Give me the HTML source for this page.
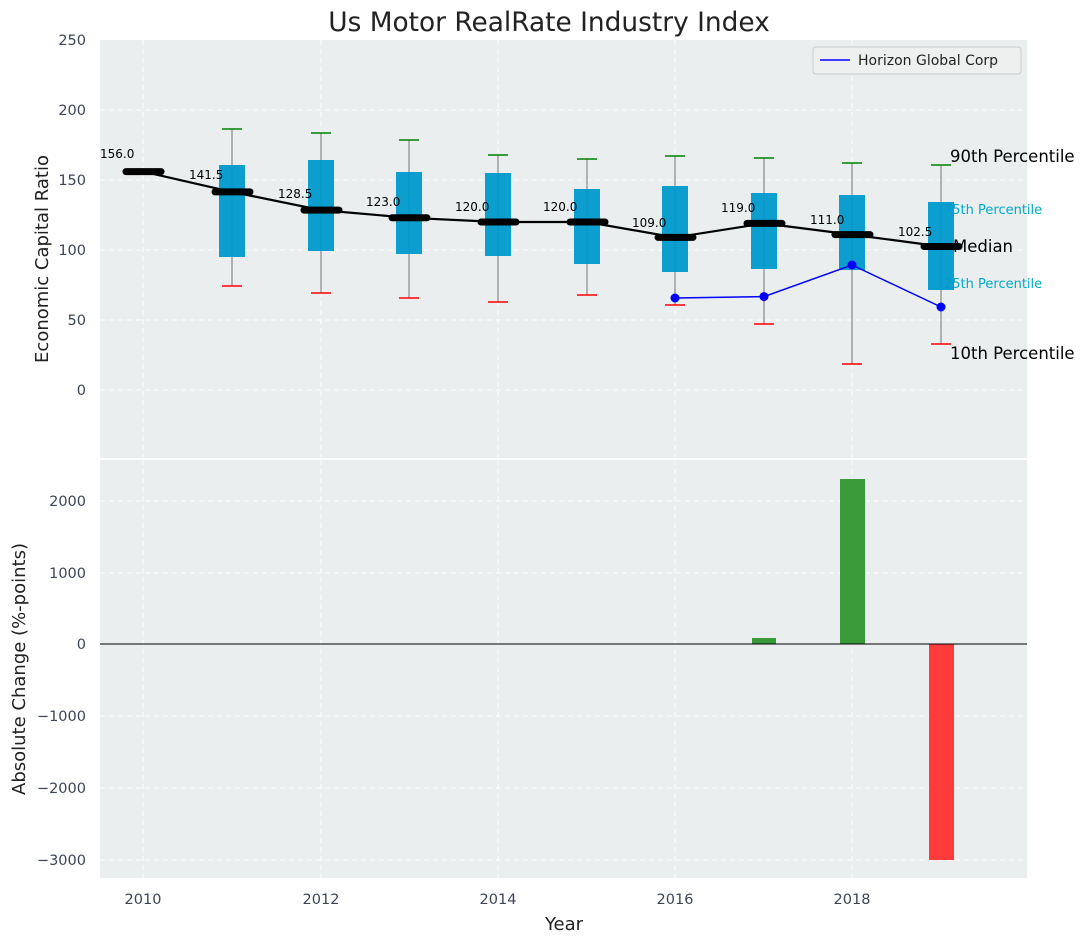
<!DOCTYPE html><html><head><meta charset="utf-8"><style>body{margin:0;background:#fff}svg{display:block;font-family:"DejaVu Sans","Liberation Sans",sans-serif}</style></head><body>
<svg width="1085" height="942" viewBox="0 0 1085 942">
<rect x="100" y="40" width="927" height="418" fill="#eaeeee"/>
<rect x="100" y="460" width="927" height="418" fill="#eaeeee"/>
<g stroke="#fff" stroke-dasharray="5,4" stroke-width="1">
<line x1="143" y1="40" x2="143" y2="458"/><line x1="321" y1="40" x2="321" y2="458"/><line x1="498" y1="40" x2="498" y2="458"/><line x1="675" y1="40" x2="675" y2="458"/><line x1="852" y1="40" x2="852" y2="458"/>
<line x1="100" y1="110" x2="1027" y2="110"/><line x1="100" y1="180" x2="1027" y2="180"/><line x1="100" y1="250" x2="1027" y2="250"/><line x1="100" y1="320" x2="1027" y2="320"/><line x1="100" y1="390" x2="1027" y2="390"/>
<line x1="143" y1="460" x2="143" y2="878"/><line x1="321" y1="460" x2="321" y2="878"/><line x1="498" y1="460" x2="498" y2="878"/><line x1="675" y1="460" x2="675" y2="878"/><line x1="852" y1="460" x2="852" y2="878"/>
<line x1="100" y1="501" x2="1027" y2="501"/><line x1="100" y1="573" x2="1027" y2="573"/><line x1="100" y1="716" x2="1027" y2="716"/><line x1="100" y1="788" x2="1027" y2="788"/><line x1="100" y1="860" x2="1027" y2="860"/>
</g>
<g fill="#00aacc" font-size="13"><text x="944" y="214">75th Percentile</text><text x="944" y="288">25th Percentile</text></g>
<g stroke="#888" stroke-width="1.2">
<line x1="232" y1="129" x2="232" y2="286"/><line x1="321" y1="133" x2="321" y2="293"/><line x1="409" y1="140" x2="409" y2="298"/><line x1="498" y1="155" x2="498" y2="302"/><line x1="587" y1="159" x2="587" y2="295"/><line x1="675" y1="156" x2="675" y2="305"/><line x1="764" y1="158" x2="764" y2="324"/><line x1="852" y1="163" x2="852" y2="364"/><line x1="941" y1="165" x2="941" y2="344"/>
</g>
<g fill="#0099cc" fill-opacity="0.95">
<rect x="219" y="165" width="26" height="92"/><rect x="308" y="160" width="26" height="91"/><rect x="396" y="172" width="26" height="82"/><rect x="485" y="173" width="26" height="83"/><rect x="574" y="189" width="26" height="75"/><rect x="662" y="186" width="26" height="86"/><rect x="751" y="193" width="26" height="76"/><rect x="839" y="195" width="26" height="75"/><rect x="928" y="202" width="26" height="88"/>
</g>
<g stroke="#008000" stroke-width="1.5"><line x1="222" y1="129" x2="242" y2="129"/><line x1="311" y1="133" x2="331" y2="133"/><line x1="399" y1="140" x2="419" y2="140"/><line x1="488" y1="155" x2="508" y2="155"/><line x1="577" y1="159" x2="597" y2="159"/><line x1="665" y1="156" x2="685" y2="156"/><line x1="754" y1="158" x2="774" y2="158"/><line x1="842" y1="163" x2="862" y2="163"/><line x1="931" y1="165" x2="951" y2="165"/></g>
<g stroke="#ff0000" stroke-width="1.5"><line x1="222" y1="286" x2="242" y2="286"/><line x1="311" y1="293" x2="331" y2="293"/><line x1="399" y1="298" x2="419" y2="298"/><line x1="488" y1="302" x2="508" y2="302"/><line x1="577" y1="295" x2="597" y2="295"/><line x1="665" y1="305" x2="685" y2="305"/><line x1="754" y1="324" x2="774" y2="324"/><line x1="842" y1="364" x2="862" y2="364"/><line x1="931" y1="344" x2="951" y2="344"/></g>
<polyline fill="none" stroke="#000" stroke-width="2.2" points="143,171.6 232,191.9 321,210.1 409,217.8 498,222 587,222 675,237.4 764,223.4 852,234.6 941,246.5"/>
<g stroke="#000" stroke-width="7" stroke-linecap="round">
<line x1="126" y1="171.6" x2="161" y2="171.6"/><line x1="215" y1="191.9" x2="250" y2="191.9"/><line x1="304" y1="210.1" x2="339" y2="210.1"/><line x1="392" y1="217.8" x2="427" y2="217.8"/><line x1="481" y1="222" x2="516" y2="222"/><line x1="570" y1="222" x2="605" y2="222"/><line x1="658" y1="237.4" x2="693" y2="237.4"/><line x1="747" y1="223.4" x2="782" y2="223.4"/><line x1="835" y1="234.6" x2="870" y2="234.6"/><line x1="924" y1="246.5" x2="959" y2="246.5"/>
</g>
<g font-size="12" fill="#000"><text x="100" y="158">156.0</text><text x="189" y="179">141.5</text><text x="278" y="198">128.5</text><text x="366" y="206">123.0</text><text x="455" y="211">120.0</text><text x="543" y="211">120.0</text><text x="632" y="227">109.0</text><text x="721" y="212">119.0</text><text x="810" y="224">111.0</text><text x="898" y="236">102.5</text></g>
<polyline fill="none" stroke="#0000ff" stroke-width="1.5" points="675,298 764,296.6 852,265 941,307"/>
<g fill="#0000ff"><circle cx="675" cy="298" r="4.5"/><circle cx="764" cy="296.6" r="4.5"/><circle cx="852" cy="265" r="4.5"/><circle cx="941" cy="307" r="4.5"/></g>
<g font-size="16.5" fill="#000"><text x="950" y="162">90th Percentile</text><text x="953" y="252">Median</text><text x="950" y="359">10th Percentile</text></g>
<rect x="813" y="47" width="208" height="27" fill="#eef0f0" stroke="#ccc" rx="3"/>
<line x1="820" y1="60" x2="850" y2="60" stroke="#0000ff" stroke-width="1.5"/>
<text x="858" y="65" font-size="14" fill="#222">Horizon Global Corp</text>
<rect x="752" y="638" width="24" height="6" fill="#3a9a3a"/>
<rect x="840" y="479" width="25" height="165" fill="#3a9a3a"/>
<rect x="929" y="644" width="25" height="216" fill="#ff3b3b"/>
<line x1="100" y1="644" x2="1027" y2="644" stroke="#000" stroke-width="1"/>
<g font-size="14.5" fill="#3c4556" text-anchor="end">
<text x="86" y="45">250</text><text x="86" y="115">200</text><text x="86" y="185">150</text><text x="86" y="255">100</text><text x="86" y="325">50</text><text x="86" y="395">0</text>
<text x="86" y="506">2000</text><text x="86" y="578">1000</text><text x="86" y="649">0</text><text x="86" y="721">−1000</text><text x="86" y="793">−2000</text><text x="86" y="865">−3000</text>
</g>
<g font-size="14.5" fill="#3c4556" text-anchor="middle"><text x="143" y="904">2010</text><text x="321" y="904">2012</text><text x="498" y="904">2014</text><text x="675" y="904">2016</text><text x="852" y="904">2018</text></g>
<text x="564" y="930" font-size="18" fill="#222" text-anchor="middle">Year</text>
<text x="549" y="31" font-size="26.4" fill="#222" text-anchor="middle">Us Motor RealRate Industry Index</text>
<text transform="translate(48,259) rotate(-90)" font-size="18" fill="#222" text-anchor="middle">Economic Capital Ratio</text>
<text transform="translate(25,669) rotate(-90)" font-size="18" fill="#222" text-anchor="middle">Absolute Change (%-points)</text>
</svg></body></html>
